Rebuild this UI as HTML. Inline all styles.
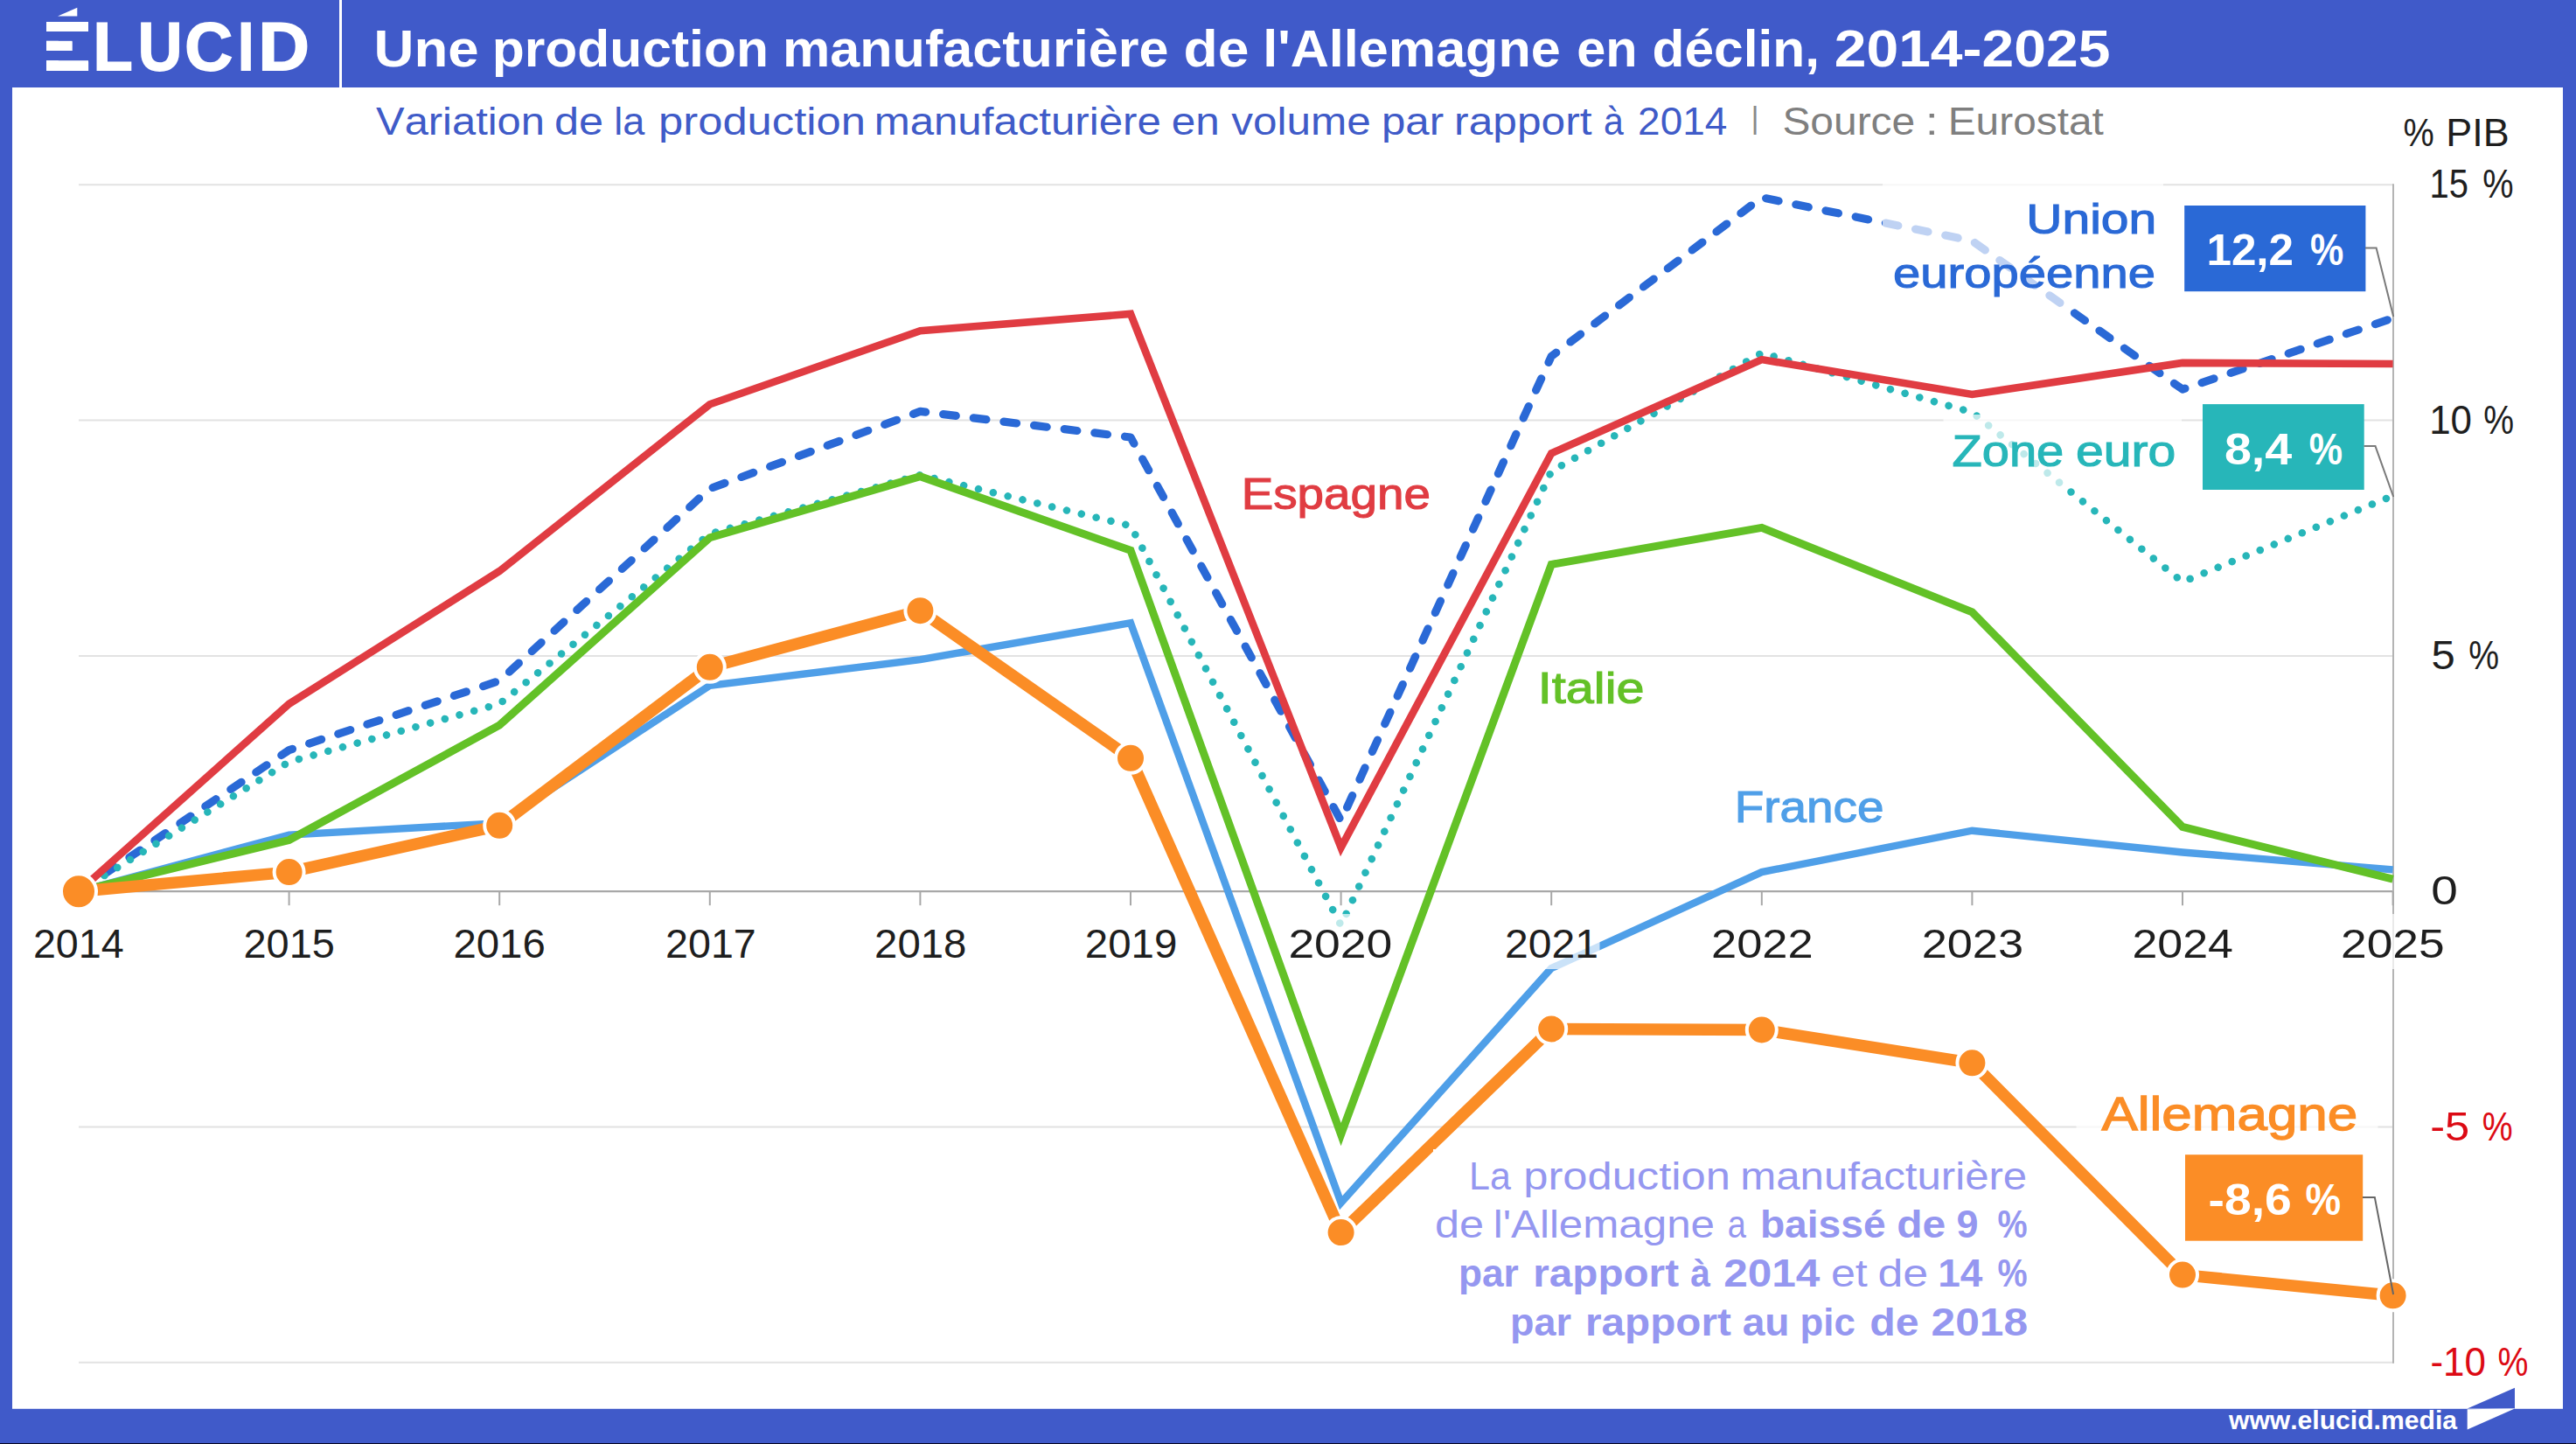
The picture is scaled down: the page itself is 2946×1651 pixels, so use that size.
<!DOCTYPE html>
<html lang="fr"><head><meta charset="utf-8"><title>Une production manufacturière de l'Allemagne en déclin, 2014-2025</title>
<style>html,body{margin:0;padding:0;background:#405ac9;overflow:hidden;}svg{display:block}text{font-family:"Liberation Sans",sans-serif;font-kerning:none;}</style></head><body>
<svg width="2946" height="1651" viewBox="0 0 2946 1651">
<rect x="0" y="0" width="2946" height="1651" fill="#405ac9"/>
<rect x="14" y="100" width="2917" height="1510.8" fill="#ffffff"/>
<rect x="388" y="0" width="3" height="100" fill="#ffffff"/>
<text y="79.6" font-size="78" font-weight="bold" fill="#ffffff" stroke="#ffffff" stroke-width="1.8" stroke-linejoin="miter"><tspan x="48.4" textLength="54.9" lengthAdjust="spacingAndGlyphs">É</tspan><tspan x="106.5" textLength="45.2" lengthAdjust="spacingAndGlyphs">L</tspan><tspan x="157.7" textLength="50.7" lengthAdjust="spacingAndGlyphs">U</tspan><tspan x="211.3" textLength="54.9" lengthAdjust="spacingAndGlyphs">C</tspan><tspan x="272.0" textLength="18.5" lengthAdjust="spacingAndGlyphs">I</tspan><tspan x="295.5" textLength="58.3" lengthAdjust="spacingAndGlyphs">D</tspan></text>
<rect x="50" y="0" width="53" height="24" fill="#405ac9"/>
<rect x="50" y="36" width="53" height="10.8" fill="#405ac9"/>
<rect x="50" y="58" width="53" height="11.2" fill="#405ac9"/>
<rect x="82.5" y="36" width="21" height="33.2" fill="#405ac9"/>
<polygon points="66,18.4 88.3,8.7 88.3,18.4" fill="#fff"/>
<rect x="53" y="25" width="48" height="11" fill="#fff"/>
<rect x="53" y="46.8" width="29.5" height="11.2" fill="#fff"/>
<rect x="53" y="69.2" width="48" height="11.3" fill="#fff"/>
<text x="427.6" y="75.5" font-size="59.0" fill="#ffffff" font-weight="bold" textLength="120.1" lengthAdjust="spacingAndGlyphs">Une</text>
<text x="562.7" y="75.5" font-size="59.0" fill="#ffffff" font-weight="bold" textLength="316.2" lengthAdjust="spacingAndGlyphs">production</text>
<text x="895.0" y="75.5" font-size="59.0" fill="#ffffff" font-weight="bold" textLength="441.4" lengthAdjust="spacingAndGlyphs">manufacturière</text>
<text x="1353.4" y="75.5" font-size="59.0" fill="#ffffff" font-weight="bold" textLength="75.0" lengthAdjust="spacingAndGlyphs">de</text>
<text x="1444.2" y="75.5" font-size="59.0" fill="#ffffff" font-weight="bold" textLength="340.6" lengthAdjust="spacingAndGlyphs">l'Allemagne</text>
<text x="1803.2" y="75.5" font-size="59.0" fill="#ffffff" font-weight="bold" textLength="69.4" lengthAdjust="spacingAndGlyphs">en</text>
<text x="1889.5" y="75.5" font-size="59.0" fill="#ffffff" font-weight="bold" textLength="191.5" lengthAdjust="spacingAndGlyphs">déclin,</text>
<text x="2097.7" y="75.5" font-size="59.0" fill="#ffffff" font-weight="bold" textLength="315.8" lengthAdjust="spacingAndGlyphs">2014-2025</text>
<text x="430.1" y="153.9" font-size="43.5" fill="#3f5bc8" textLength="192.8" lengthAdjust="spacingAndGlyphs">Variation</text>
<text x="633.9" y="153.9" font-size="43.5" fill="#3f5bc8" textLength="56.1" lengthAdjust="spacingAndGlyphs">de</text>
<text x="702.3" y="153.9" font-size="43.5" fill="#3f5bc8" textLength="35.1" lengthAdjust="spacingAndGlyphs">la</text>
<text x="753.1" y="153.9" font-size="43.5" fill="#3f5bc8" textLength="236.8" lengthAdjust="spacingAndGlyphs">production</text>
<text x="999.7" y="153.9" font-size="43.5" fill="#3f5bc8" textLength="328.1" lengthAdjust="spacingAndGlyphs">manufacturière</text>
<text x="1339.8" y="153.9" font-size="43.5" fill="#3f5bc8" textLength="55.0" lengthAdjust="spacingAndGlyphs">en</text>
<text x="1408.3" y="153.9" font-size="43.5" fill="#3f5bc8" textLength="159.4" lengthAdjust="spacingAndGlyphs">volume</text>
<text x="1580.0" y="153.9" font-size="43.5" fill="#3f5bc8" textLength="71.1" lengthAdjust="spacingAndGlyphs">par</text>
<text x="1663.1" y="153.9" font-size="43.5" fill="#3f5bc8" textLength="157.4" lengthAdjust="spacingAndGlyphs">rapport</text>
<text x="1834.0" y="153.9" font-size="43.5" fill="#3f5bc8" textLength="22.8" lengthAdjust="spacingAndGlyphs">à</text>
<text x="1873.1" y="153.9" font-size="43.5" fill="#3f5bc8" textLength="102.2" lengthAdjust="spacingAndGlyphs">2014</text>
<text x="2002.4" y="147.3" font-size="34.9" fill="#8a8a8a">|</text>
<text x="2038.4" y="153.9" font-size="43.5" fill="#7f7f7f" textLength="151.8" lengthAdjust="spacingAndGlyphs">Source</text>
<text x="2201.8" y="153.9" font-size="43.5" fill="#7f7f7f" textLength="15.1" lengthAdjust="spacingAndGlyphs">:</text>
<text x="2227.7" y="153.9" font-size="43.5" fill="#7f7f7f" textLength="178.2" lengthAdjust="spacingAndGlyphs">Eurostat</text>
<line x1="90" x2="2737" y1="211.3" y2="211.3" stroke="#e2e2e2" stroke-width="2"/>
<line x1="90" x2="2737" y1="480.6" y2="480.6" stroke="#e2e2e2" stroke-width="2"/>
<line x1="90" x2="2737" y1="749.9" y2="749.9" stroke="#e2e2e2" stroke-width="2"/>
<line x1="90" x2="2737" y1="1288.5" y2="1288.5" stroke="#e2e2e2" stroke-width="2"/>
<line x1="90" x2="2737" y1="1557.8" y2="1557.8" stroke="#e2e2e2" stroke-width="2"/>
<line x1="90" x2="2737" y1="1019.2" y2="1019.2" stroke="#a8a8a8" stroke-width="2.2"/>
<line x1="2737" x2="2737" y1="210.3" y2="1558.8" stroke="#b4b4b4" stroke-width="2"/>
<line x1="330.6" x2="330.6" y1="1019.2" y2="1035.2" stroke="#a8a8a8" stroke-width="2"/>
<line x1="571.2" x2="571.2" y1="1019.2" y2="1035.2" stroke="#a8a8a8" stroke-width="2"/>
<line x1="811.8" x2="811.8" y1="1019.2" y2="1035.2" stroke="#a8a8a8" stroke-width="2"/>
<line x1="1052.4" x2="1052.4" y1="1019.2" y2="1035.2" stroke="#a8a8a8" stroke-width="2"/>
<line x1="1293.0" x2="1293.0" y1="1019.2" y2="1035.2" stroke="#a8a8a8" stroke-width="2"/>
<line x1="1533.6" x2="1533.6" y1="1019.2" y2="1035.2" stroke="#a8a8a8" stroke-width="2"/>
<line x1="1774.2" x2="1774.2" y1="1019.2" y2="1035.2" stroke="#a8a8a8" stroke-width="2"/>
<line x1="2014.8" x2="2014.8" y1="1019.2" y2="1035.2" stroke="#a8a8a8" stroke-width="2"/>
<line x1="2255.4" x2="2255.4" y1="1019.2" y2="1035.2" stroke="#a8a8a8" stroke-width="2"/>
<line x1="2496.0" x2="2496.0" y1="1019.2" y2="1035.2" stroke="#a8a8a8" stroke-width="2"/>
<line x1="2736.6" x2="2736.6" y1="1019.2" y2="1035.2" stroke="#a8a8a8" stroke-width="2"/>
<defs><clipPath id="c"><rect x="0" y="100" width="2738" height="1510"/></clipPath></defs>
<g clip-path="url(#c)" fill="none" stroke-linejoin="miter" stroke-miterlimit="10">
<polyline points="90.0,1019.2 330.6,954.6 571.2,941.1 811.8,783.8 1052.4,754.2 1293.0,712.2 1533.6,1375.2 1774.2,1107.0 2014.8,997.1 2255.4,949.7 2496.0,974.5 2736.6,994.4" stroke="#4f9fe8" stroke-width="8.4"/>
<polyline points="90.0,1019.2 330.6,857.6 571.2,778.4 811.8,558.7 1052.4,470.4 1293.0,500.0 1533.6,938.4 1774.2,407.4 2014.8,225.8 2255.4,275.4 2496.0,445.1 2736.6,363.7" stroke="#2a69d6" stroke-width="9.2" stroke-linecap="round" stroke-linejoin="round" stroke-dasharray="14.7 20.2"/>
<polyline points="90.0,1019.2 330.6,871.1 571.2,804.8 811.8,610.4 1052.4,543.1 1293.0,601.2 1533.6,1058.0 1774.2,538.8 2014.8,403.6 2255.4,471.4 2496.0,665.3 2736.6,566.8" stroke="#27b6b9" stroke-width="8.6" stroke-linecap="round" stroke-linejoin="round" stroke-dasharray="0.01 17.3"/>
<polyline points="90.0,1019.2 330.6,960.5 571.2,829.1 811.8,614.7 1052.4,544.7 1293.0,629.3 1533.6,1297.1 1774.2,645.4 2014.8,603.4 2255.4,699.8 2496.0,945.4 2736.6,1005.2" stroke="#63c127" stroke-width="9"/>
<polyline points="90.0,1019.2 330.6,804.8 571.2,653.0 811.8,462.3 1052.4,378.3 1293.0,358.9 1533.6,969.1 1774.2,518.3 2014.8,411.1 2255.4,451.0 2496.0,414.9 2736.6,416.0" stroke="#e03c42" stroke-width="8.6"/>
<polyline points="90.0,1019.2 330.6,997.1 571.2,943.8 811.8,762.8 1052.4,698.2 1293.0,866.8 1533.6,1409.1 1774.2,1176.5 2014.8,1177.5 2255.4,1215.3 2496.0,1457.6 2736.6,1481.3" stroke="#fb8d26" stroke-width="13.5" stroke-linejoin="round"/>
</g>
<circle cx="90.0" cy="1019.2" r="20.0" fill="#fb8d26" stroke="#fff" stroke-width="4"/>
<circle cx="330.6" cy="997.1" r="17.0" fill="#fb8d26" stroke="#fff" stroke-width="4"/>
<circle cx="571.2" cy="943.8" r="17.0" fill="#fb8d26" stroke="#fff" stroke-width="4"/>
<circle cx="811.8" cy="762.8" r="17.0" fill="#fb8d26" stroke="#fff" stroke-width="4"/>
<circle cx="1052.4" cy="698.2" r="17.0" fill="#fb8d26" stroke="#fff" stroke-width="4"/>
<circle cx="1293.0" cy="866.8" r="17.0" fill="#fb8d26" stroke="#fff" stroke-width="4"/>
<circle cx="1533.6" cy="1409.1" r="17.0" fill="#fb8d26" stroke="#fff" stroke-width="4"/>
<circle cx="1774.2" cy="1176.5" r="17.0" fill="#fb8d26" stroke="#fff" stroke-width="4"/>
<circle cx="2014.8" cy="1177.5" r="17.0" fill="#fb8d26" stroke="#fff" stroke-width="4"/>
<circle cx="2255.4" cy="1215.3" r="17.0" fill="#fb8d26" stroke="#fff" stroke-width="4"/>
<circle cx="2496.0" cy="1457.6" r="17.0" fill="#fb8d26" stroke="#fff" stroke-width="4"/>
<circle cx="2736.6" cy="1481.3" r="17.0" fill="#fb8d26" stroke="#fff" stroke-width="4"/>
<rect x="2153" y="200" width="321" height="152" fill="#fff" fill-opacity="0.7"/>
<rect x="2222.5" y="474" width="272.5" height="84" fill="#fff" fill-opacity="0.7"/>
<rect x="2374.5" y="1238" width="345" height="72" fill="#fff" fill-opacity="0.7"/>
<rect x="1639" y="1314" width="700" height="232" fill="#fff"/>
<rect x="36.2" y="1045" width="108.1" height="63" fill="#fff" fill-opacity="0.7"/>
<text x="37.9" y="1095.1" font-size="46.0" fill="#1e1e1e" textLength="103.8" lengthAdjust="spacingAndGlyphs">2014</text>
<rect x="276.9" y="1045" width="108.1" height="63" fill="#fff" fill-opacity="0.7"/>
<text x="278.5" y="1095.1" font-size="46.0" fill="#1e1e1e" textLength="104.4" lengthAdjust="spacingAndGlyphs">2015</text>
<rect x="516.8" y="1045" width="108.9" height="63" fill="#fff" fill-opacity="0.7"/>
<text x="518.4" y="1095.1" font-size="46.0" fill="#1e1e1e" textLength="105.4" lengthAdjust="spacingAndGlyphs">2016</text>
<rect x="759.4" y="1045" width="107.0" height="63" fill="#fff" fill-opacity="0.7"/>
<text x="761.1" y="1095.1" font-size="46.0" fill="#1e1e1e" textLength="103.7" lengthAdjust="spacingAndGlyphs">2017</text>
<rect x="998.5" y="1045" width="108.9" height="63" fill="#fff" fill-opacity="0.7"/>
<text x="1000.1" y="1095.1" font-size="46.0" fill="#1e1e1e" textLength="105.3" lengthAdjust="spacingAndGlyphs">2018</text>
<rect x="1239.2" y="1045" width="108.9" height="63" fill="#fff" fill-opacity="0.7"/>
<text x="1240.8" y="1095.1" font-size="46.0" fill="#1e1e1e" textLength="105.5" lengthAdjust="spacingAndGlyphs">2019</text>
<rect x="1472.1" y="1045" width="122.1" height="63" fill="#fff" fill-opacity="0.7"/>
<text x="1473.4" y="1095.1" font-size="46.0" fill="#1e1e1e" textLength="118.9" lengthAdjust="spacingAndGlyphs">2020</text>
<rect x="1719.4" y="1045" width="110.1" height="63" fill="#fff" fill-opacity="0.7"/>
<text x="1721.0" y="1095.1" font-size="46.0" fill="#1e1e1e" textLength="106.9" lengthAdjust="spacingAndGlyphs">2021</text>
<rect x="1955.6" y="1045" width="119.4" height="63" fill="#fff" fill-opacity="0.7"/>
<text x="1957.0" y="1095.1" font-size="46.0" fill="#1e1e1e" textLength="116.7" lengthAdjust="spacingAndGlyphs">2022</text>
<rect x="2196.3" y="1045" width="119.4" height="63" fill="#fff" fill-opacity="0.7"/>
<text x="2197.7" y="1095.1" font-size="46.0" fill="#1e1e1e" textLength="116.3" lengthAdjust="spacingAndGlyphs">2023</text>
<rect x="2437.0" y="1045" width="119.4" height="63" fill="#fff" fill-opacity="0.7"/>
<text x="2438.4" y="1095.1" font-size="46.0" fill="#1e1e1e" textLength="115.5" lengthAdjust="spacingAndGlyphs">2024</text>
<rect x="2675.7" y="1045" width="121.7" height="63" fill="#fff" fill-opacity="0.7"/>
<text x="2677.0" y="1095.1" font-size="46.0" fill="#1e1e1e" textLength="118.6" lengthAdjust="spacingAndGlyphs">2025</text>
<text x="2748.6" y="167.3" font-size="45.0" fill="#1e1e1e" textLength="35.3" lengthAdjust="spacingAndGlyphs">%</text>
<text x="2797.3" y="167.3" font-size="45.0" fill="#1e1e1e" textLength="72.5" lengthAdjust="spacingAndGlyphs">PIB</text>
<text x="2778.5" y="226.4" font-size="46.0" fill="#1e1e1e" textLength="44.5" lengthAdjust="spacingAndGlyphs">15</text>
<text x="2839.3" y="226.4" font-size="46.0" fill="#1e1e1e" textLength="35.3" lengthAdjust="spacingAndGlyphs">%</text>
<text x="2778.2" y="496.3" font-size="46.0" fill="#1e1e1e" textLength="48.8" lengthAdjust="spacingAndGlyphs">10</text>
<text x="2840.3" y="496.3" font-size="46.0" fill="#1e1e1e" textLength="34.8" lengthAdjust="spacingAndGlyphs">%</text>
<text x="2780.5" y="765.2" font-size="46.0" fill="#1e1e1e" textLength="27.3" lengthAdjust="spacingAndGlyphs">5</text>
<text x="2823.3" y="765.2" font-size="46.0" fill="#1e1e1e" textLength="34.8" lengthAdjust="spacingAndGlyphs">%</text>
<text x="2780.2" y="1034.4" font-size="46.0" fill="#1e1e1e" textLength="30.6" lengthAdjust="spacingAndGlyphs">0</text>
<text x="2779.2" y="1303.6" font-size="46.0" fill="#dc0a14" textLength="45.0" lengthAdjust="spacingAndGlyphs">-5</text>
<text x="2838.8" y="1303.6" font-size="46.0" fill="#dc0a14" textLength="34.9" lengthAdjust="spacingAndGlyphs">%</text>
<text x="2779.4" y="1573.0" font-size="46.0" fill="#dc0a14" textLength="63.5" lengthAdjust="spacingAndGlyphs">-10</text>
<text x="2856.5" y="1573.0" font-size="46.0" fill="#dc0a14" textLength="34.9" lengthAdjust="spacingAndGlyphs">%</text>
<text x="2317.3" y="266.6" font-size="49.0" fill="#2a69d6" textLength="149.0" lengthAdjust="spacingAndGlyphs" stroke="#2a69d6" stroke-width="1.1">Union</text>
<text x="2165.1" y="329.3" font-size="49.0" fill="#2a69d6" textLength="300.0" lengthAdjust="spacingAndGlyphs" stroke="#2a69d6" stroke-width="1.1">européenne</text>
<text x="2232.5" y="533.2" font-size="50.0" fill="#27b6b9" textLength="127.8" lengthAdjust="spacingAndGlyphs" stroke="#27b6b9" stroke-width="1.1">Zone</text>
<text x="2374.0" y="533.2" font-size="50.0" fill="#27b6b9" textLength="114.3" lengthAdjust="spacingAndGlyphs" stroke="#27b6b9" stroke-width="1.1">euro</text>
<text x="1419.7" y="582.0" font-size="50.5" fill="#e03c42" textLength="216.3" lengthAdjust="spacingAndGlyphs" stroke="#e03c42" stroke-width="1.1">Espagne</text>
<text x="1758.8" y="804.4" font-size="50.5" fill="#63c127" textLength="121.7" lengthAdjust="spacingAndGlyphs" stroke="#63c127" stroke-width="1.1">Italie</text>
<text x="1983.7" y="939.6" font-size="50.5" fill="#4f9fe8" textLength="170.8" lengthAdjust="spacingAndGlyphs" stroke="#4f9fe8" stroke-width="1.1">France</text>
<text x="2403.5" y="1292.1" font-size="54.5" fill="#fb8d26" textLength="292.8" lengthAdjust="spacingAndGlyphs" stroke="#fb8d26" stroke-width="1.3">Allemagne</text>
<rect x="2498.2" y="235" width="207.2" height="98.2" fill="#2a69d6"/>
<text x="2523.4" y="302.6" font-size="49.5" fill="#fff" font-weight="bold" textLength="99.7" lengthAdjust="spacingAndGlyphs">12,2</text>
<text x="2642.0" y="302.6" font-size="49.5" fill="#fff" font-weight="bold" textLength="38.3" lengthAdjust="spacingAndGlyphs">%</text>
<rect x="2519" y="462.1" width="184.7" height="97.9" fill="#27b6b9"/>
<text x="2543.9" y="530.8" font-size="49.5" fill="#fff" font-weight="bold" textLength="77.4" lengthAdjust="spacingAndGlyphs">8,4</text>
<text x="2640.8" y="530.8" font-size="49.5" fill="#fff" font-weight="bold" textLength="38.3" lengthAdjust="spacingAndGlyphs">%</text>
<rect x="2499" y="1320.2" width="203.2" height="98.5" fill="#fb8d26"/>
<text x="2525.5" y="1389.1" font-size="49.5" fill="#fff" font-weight="bold" textLength="95.3" lengthAdjust="spacingAndGlyphs">-8,6</text>
<text x="2636.6" y="1389.1" font-size="49.5" fill="#fff" font-weight="bold" textLength="40.6" lengthAdjust="spacingAndGlyphs">%</text>
<polyline points="2705,283.6 2717.6,283.6 2737.2,362" fill="none" stroke="#7a7a7a" stroke-width="2"/>
<polyline points="2703.5,510.1 2716.5,510.1 2737.2,568" fill="none" stroke="#7a7a7a" stroke-width="2"/>
<polyline points="2702,1368.9 2715.8,1368.9 2737.1,1480" fill="none" stroke="#666" stroke-width="2"/>
<text x="1680.0" y="1359.7" font-size="44.0" fill="#9597f0" textLength="47.8" lengthAdjust="spacingAndGlyphs">La</text>
<text x="1742.2" y="1359.7" font-size="44.0" fill="#9597f0" textLength="236.8" lengthAdjust="spacingAndGlyphs">production</text>
<text x="1990.3" y="1359.7" font-size="44.0" fill="#9597f0" textLength="327.9" lengthAdjust="spacingAndGlyphs">manufacturière</text>
<text x="1640.9" y="1414.6" font-size="44.0" fill="#9597f0" textLength="56.1" lengthAdjust="spacingAndGlyphs">de</text>
<text x="1707.7" y="1414.6" font-size="44.0" fill="#9597f0" textLength="253.3" lengthAdjust="spacingAndGlyphs">l'Allemagne</text>
<text x="1975.7" y="1414.6" font-size="44.0" fill="#9597f0" textLength="21.1" lengthAdjust="spacingAndGlyphs">a</text>
<text x="2012.9" y="1414.6" font-size="44.0" fill="#9597f0" font-weight="bold" textLength="143.7" lengthAdjust="spacingAndGlyphs">baissé</text>
<text x="2169.3" y="1414.6" font-size="44.0" fill="#9597f0" font-weight="bold" textLength="56.0" lengthAdjust="spacingAndGlyphs">de</text>
<text x="2237.6" y="1414.6" font-size="44.0" fill="#9597f0" font-weight="bold" textLength="25.0" lengthAdjust="spacingAndGlyphs">9</text>
<text x="2284.4" y="1414.6" font-size="44.0" fill="#9597f0" font-weight="bold" textLength="34.1" lengthAdjust="spacingAndGlyphs">%</text>
<text x="1667.9" y="1471.1" font-size="44.0" fill="#9597f0" font-weight="bold" textLength="68.8" lengthAdjust="spacingAndGlyphs">par</text>
<text x="1753.3" y="1471.1" font-size="44.0" fill="#9597f0" font-weight="bold" textLength="166.7" lengthAdjust="spacingAndGlyphs">rapport</text>
<text x="1933.3" y="1471.1" font-size="44.0" fill="#9597f0" font-weight="bold" textLength="22.7" lengthAdjust="spacingAndGlyphs">à</text>
<text x="1971.2" y="1471.1" font-size="44.0" fill="#9597f0" font-weight="bold" textLength="110.2" lengthAdjust="spacingAndGlyphs">2014</text>
<text x="2093.9" y="1471.1" font-size="44.0" fill="#9597f0" textLength="41.9" lengthAdjust="spacingAndGlyphs">et</text>
<text x="2147.4" y="1471.1" font-size="44.0" fill="#9597f0" textLength="57.7" lengthAdjust="spacingAndGlyphs">de</text>
<text x="2216.2" y="1471.1" font-size="44.0" fill="#9597f0" font-weight="bold" textLength="51.2" lengthAdjust="spacingAndGlyphs">14</text>
<text x="2284.4" y="1471.1" font-size="44.0" fill="#9597f0" font-weight="bold" textLength="34.1" lengthAdjust="spacingAndGlyphs">%</text>
<text x="1727.0" y="1526.5" font-size="44.0" fill="#9597f0" font-weight="bold" textLength="69.9" lengthAdjust="spacingAndGlyphs">par</text>
<text x="1813.0" y="1526.5" font-size="44.0" fill="#9597f0" font-weight="bold" textLength="166.8" lengthAdjust="spacingAndGlyphs">rapport</text>
<text x="1992.7" y="1526.5" font-size="44.0" fill="#9597f0" font-weight="bold" textLength="53.9" lengthAdjust="spacingAndGlyphs">au</text>
<text x="2058.6" y="1526.5" font-size="44.0" fill="#9597f0" font-weight="bold" textLength="63.2" lengthAdjust="spacingAndGlyphs">pic</text>
<text x="2138.3" y="1526.5" font-size="44.0" fill="#9597f0" font-weight="bold" textLength="56.3" lengthAdjust="spacingAndGlyphs">de</text>
<text x="2208.5" y="1526.5" font-size="44.0" fill="#9597f0" font-weight="bold" textLength="110.6" lengthAdjust="spacingAndGlyphs">2018</text>
<text x="2549.0" y="1633.6" font-size="30.0" fill="#fff" font-weight="bold" textLength="261.0" lengthAdjust="spacingAndGlyphs">www.elucid.media</text>
<polygon points="2821.7,1610.6 2876,1586.8 2876,1610.6" fill="#405ac9"/>
<polygon points="2821.7,1611.2 2876,1610.6 2821.7,1634.4" fill="#fff"/>
<rect x="0" y="1650" width="2946" height="1" fill="#05051e"/>
</svg></body></html>
